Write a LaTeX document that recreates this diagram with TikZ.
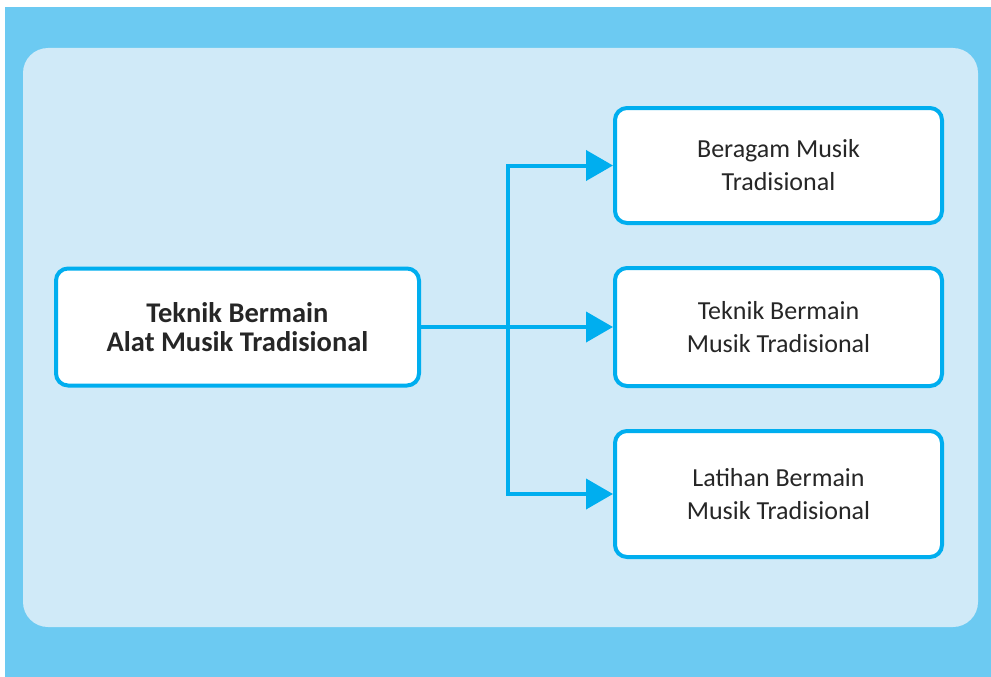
\documentclass[tikz,border=0pt]{standalone}
\usepackage{fontspec}
\setmainfont{Carlito}
\usetikzlibrary{arrows.meta,positioning}
\definecolor{outerblue}{RGB}{108,202,242}
\definecolor{innerblue}{RGB}{208,234,248}
\definecolor{linecyan}{RGB}{0,174,239}
\tikzset{
    %Define standard arrow tip
    >={Triangle[length=27pt,width=30pt]},
    %Define style for boxes
    mainbox/.style={
           rectangle,
           rounded corners=12pt,
           draw=linecyan, line width=4pt,
           fill=white,
           minimum width=363pt,
           minimum height=117pt,
           font=\bfseries\fontsize{28.5}{29}\selectfont,
           text=black!85,
           align=center},
    topicbox/.style={
           rectangle,
           rounded corners=12pt,
           draw=linecyan, line width=4pt,
           fill=white,
           minimum width=327pt,
           minimum height=118pt,
           font=\fontsize{26}{33}\selectfont,
           text=black!85,
           align=center},
    % Define arrow style
    pil/.style={
           ->,
           draw=linecyan,
           line width=4pt,
           line join=miter}
}
\begin{document}
\begin{tikzpicture}[x=1pt,y=-1pt,node distance=41pt]
\useasboundingbox (0,0) rectangle (991,677);

 %background
\fill[outerblue] (5,7) rectangle (991,677);
\fill[innerblue, rounded corners=25pt] (23,48) rectangle (978,627);

 %nodes
\node[mainbox] (main) at (237.5,327) {Teknik Bermain\\Alat Musik Tradisional};
\node[topicbox, right=192pt of main] (mid) {Teknik Bermain\\Musik Tradisional};
\node[topicbox, minimum height=115pt, above=of mid] (top) {Beragam Musik\\Tradisional};
\node[topicbox, minimum height=126pt, below=of mid] (bot) {Latihan Bermain\\Musik Tradisional};
\coordinate[right=87pt of main.east] (fork);

 %arrows
\draw[pil] (main.east) -- (main.east -| mid.west);
\draw[pil, <->] (top.west) -- (fork |- top.west) -- (fork |- bot.west) -- (bot.west);

\end{tikzpicture}
\end{document}
